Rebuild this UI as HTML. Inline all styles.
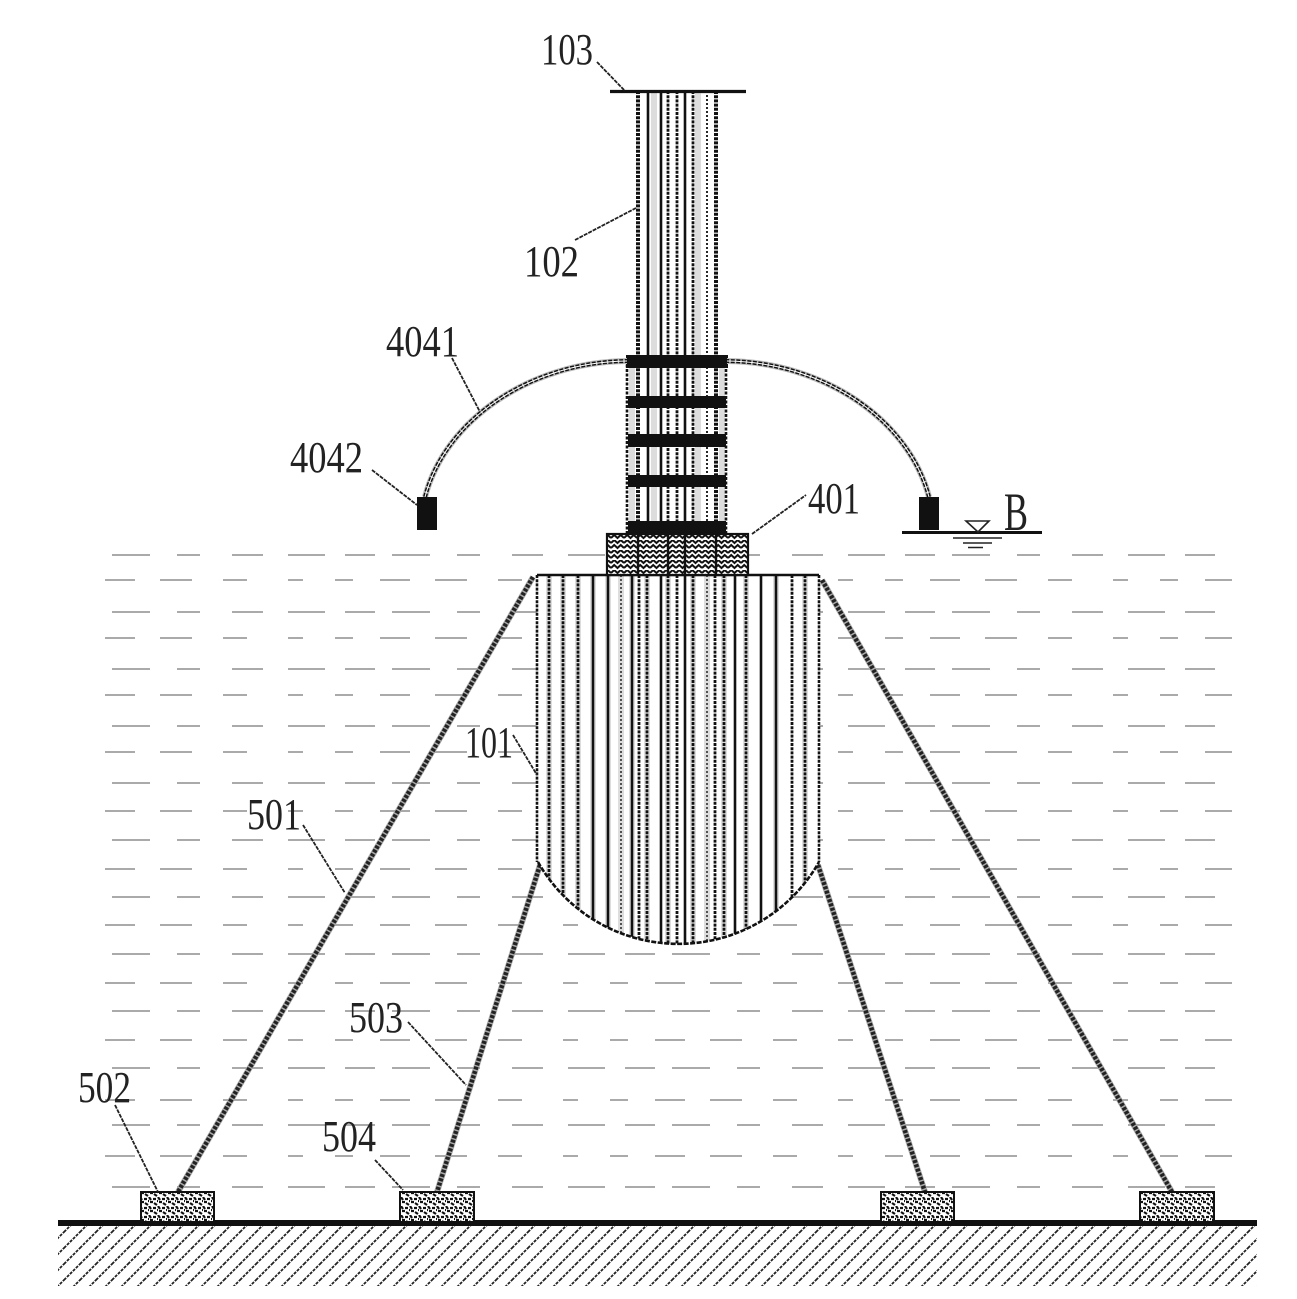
<!DOCTYPE html>
<html><head><meta charset="utf-8"><style>
html,body{margin:0;padding:0;background:#fff}
svg{display:block}
text{font-family:"Liberation Serif",serif;font-size:44px;fill:#222}
</style></head><body>
<svg xmlns="http://www.w3.org/2000/svg" width="1297" height="1299" viewBox="0 0 1297 1299">
<defs>
<pattern id="h" width="16" height="16" patternUnits="userSpaceOnUse"><path d="M-4 4L4 -4M0 16L16 0M12 20L20 12" stroke="#222" stroke-width="1.8" stroke-dasharray="3 1.2"/></pattern>
<pattern id="x" width="13" height="10" patternUnits="userSpaceOnUse"><path d="M0 3L3.2 0L6.5 3L9.7 0L13 3M0 8L3.2 5L6.5 8L9.7 5L13 8" fill="none" stroke="#111" stroke-width="2"/></pattern>
<pattern id="n" width="9" height="9" patternUnits="userSpaceOnUse"><path d="M0 2h3M5 0l2 3M1 6l3 2M6 5h3M4 4h1" stroke="#111" stroke-width="2.2"/></pattern>
<clipPath id="bc"><path d="M537 575H819V862A161.5 161.5 0 0 1 538 862Z"/></clipPath>
</defs>
<rect width="1297" height="1299" fill="#fff"/>

<!-- water -->
<g fill="none" stroke="#aaa" stroke-width="2">
<g stroke-dasharray="30 17 38 27 23 32 31 25 37 20" stroke-dashoffset="35">
<path d="M100 555H1232M100 612H1232M100 669H1232M100 726H1232M100 783H1232M100 840H1232M100 897H1232M100 954H1232M100 1011H1232M100 1068H1232M100 1125H1232M100 1187H1232"/>
</g>
<g stroke-dasharray="18 27 30 25 32 31 24 41 15 32" stroke-dashoffset="40">
<path d="M100 580H1232M100 638H1232M100 695H1232M100 752H1232M100 811H1232M100 869H1232M100 925H1232M100 983H1232M100 1040H1232M100 1100H1232M100 1156H1232"/>
</g>
</g>

<!-- ground -->
<rect x="58" y="1226" width="1199" height="60" fill="url(#h)"/>
<rect x="58" y="1220" width="1199" height="6" fill="#111"/>

<!-- mooring lines -->
<g fill="none" stroke-linecap="butt">
<path d="M533 577L178 1192M822 580L1172 1192M540 865L437 1192M818 865L925 1192" stroke="#aaa" stroke-width="6"/>
<path d="M533 577L178 1192M822 580L1172 1192M540 865L437 1192M818 865L925 1192" stroke="#222" stroke-width="4.5" stroke-dasharray="3 1.5"/>
</g>

<!-- hull -->
<path d="M537 575H819V862A161.5 161.5 0 0 1 538 862Z" fill="#fff"/>
<g clip-path="url(#bc)">
<g fill="none" stroke="#ddd" stroke-width="6">
<path d="M549 575V950M563 575V950M578 575V950M593 575V950M608 575V950M621 575V950M632 575V950M647 575V950M668 575V950M693 575V950M707 575V950M724 575V950M746 575V950M776 575V950M805 575V950"/>
</g>
<g fill="none" stroke="#111" stroke-width="2.6">
<path d="M608 575V950M632 575V950M661 575V950M685 575V950M735 575V950M761 575V950M776 575V950M593 575V950"/>
</g>
<g fill="none" stroke="#111" stroke-width="2.8" stroke-dasharray="3 1.2">
<path d="M549 575V950M563 575V950M578 575V950M639 575V950M647 575V950M668 575V950M677 575V950M693 575V950M715 575V950M724 575V950M746 575V950M792 575V950M805 575V950"/>
</g>
<g fill="none" stroke="#444" stroke-width="1.8" stroke-dasharray="2 2">
<path d="M621 575V950M707 575V950"/>
</g>
</g>
<path d="M537 575V862M819 575V862" fill="none" stroke="#111" stroke-width="2.6" stroke-dasharray="3 1.2"/>
<path d="M537 575H819" fill="none" stroke="#111" stroke-width="2.4"/>
<path d="M538 862A161.5 161.5 0 0 0 819 862" fill="none" stroke="#111" stroke-width="2.6" stroke-dasharray="5 1.5"/>

<!-- shaft -->
<rect x="627" y="352" width="100" height="182" fill="#fff"/>
<g fill="none" stroke="#ddd" stroke-width="6">
<path d="M654 92V534M698 92V534M632 360V534M722 360V534"/>
</g>
<g fill="none" stroke="#111" stroke-width="2.6">
<path d="M648 91V534M661 91V534M685 91V534"/>
<path d="M638 91V534M716 91V534" stroke-width="4" stroke-dasharray="3 1.2"/>
<path d="M668 91V534M677 91V534M693 91V534" stroke-width="2.8" stroke-dasharray="3 1.2"/>
<path d="M707 91V534" stroke-width="1.8" stroke-dasharray="2 2"/>
<path d="M627 360V534M726 360V534" stroke-dasharray="3 1.5"/>
</g>
<path d="M610 91.500H746" stroke="#111" stroke-width="3.2"/>
<g fill="#111">
<rect x="626" y="355" width="102" height="13"/>
<rect x="628" y="396" width="98" height="12"/>
<rect x="628" y="434" width="98" height="13"/>
<rect x="628" y="475" width="98" height="12"/>
<rect x="628" y="521" width="98" height="14"/>
</g>

<!-- collar 401 -->
<rect x="607" y="534" width="141" height="41" fill="#fff"/>
<rect x="607" y="534" width="141" height="41" fill="url(#x)" stroke="#111" stroke-width="2.2"/>
<path d="M638 534V575M668 534V575M685 534V575M716 534V575" stroke="#111" stroke-width="2.4"/>

<!-- float arc -->
<g fill="none">
<path d="M425 497C445 420 530 362 627 361M929 497C909 420 824 362 727 361" stroke="#bbb" stroke-width="6"/>
<path d="M425 497C445 420 530 362 627 361M929 497C909 420 824 362 727 361" stroke="#111" stroke-width="4" stroke-dasharray="4 1.5"/>
<path d="M425 497C445 420 530 362 627 361M929 497C909 420 824 362 727 361" stroke="#fff" stroke-width="1"/>
</g>
<rect x="417" y="497" width="20" height="33" fill="#111"/>
<rect x="919" y="497" width="20" height="33" fill="#111"/>

<!-- water level -->
<path d="M902 532.5H1042" stroke="#111" stroke-width="3"/>
<path d="M966 521H989L978 532Z" fill="none" stroke="#222" stroke-width="1.6"/>
<path d="M953 538H1002M963 543H992M968 547.500H983" stroke="#222" stroke-width="1.6"/>
<text x="1004" y="530" textLength="24" lengthAdjust="spacingAndGlyphs" style="font-size:54px">B</text>

<!-- anchors -->
<g fill="#fff" stroke="#111" stroke-width="2">
<rect x="141" y="1192" width="73" height="30"/>
<rect x="400" y="1192" width="74" height="30"/>
<rect x="881" y="1192" width="73" height="30"/>
<rect x="1140" y="1192" width="74" height="30"/>
</g>
<g fill="url(#n)">
<rect x="141" y="1192" width="73" height="30"/>
<rect x="400" y="1192" width="74" height="30"/>
<rect x="881" y="1192" width="73" height="30"/>
<rect x="1140" y="1192" width="74" height="30"/>
</g>

<!-- leaders -->
<g fill="none" stroke="#222" stroke-width="1.8" stroke-dasharray="4 1">
<path d="M597 62L625 91"/>
<path d="M575 240L636 208"/>
<path d="M452 358L480 412"/>
<path d="M372 470L417 505"/>
<path d="M752 534L806 495"/>
<path d="M513 735L537 775"/>
<path d="M303 825L345 893"/>
<path d="M408 1022L466 1085"/>
<path d="M115 1105L158 1192"/>
<path d="M375 1160L403 1190"/>
</g>

<!-- labels -->
<text x="541" y="64" textLength="52" lengthAdjust="spacingAndGlyphs">103</text>
<text x="524" y="276" textLength="55" lengthAdjust="spacingAndGlyphs">102</text>
<text x="386" y="356" textLength="73" lengthAdjust="spacingAndGlyphs">4041</text>
<text x="290" y="472" textLength="73" lengthAdjust="spacingAndGlyphs">4042</text>
<text x="808" y="513" textLength="52" lengthAdjust="spacingAndGlyphs">401</text>
<text x="465" y="757" textLength="48" lengthAdjust="spacingAndGlyphs">101</text>
<text x="247" y="829" textLength="54" lengthAdjust="spacingAndGlyphs">501</text>
<text x="349" y="1032" textLength="54" lengthAdjust="spacingAndGlyphs">503</text>
<text x="78" y="1102" textLength="53" lengthAdjust="spacingAndGlyphs">502</text>
<text x="322" y="1151" textLength="54" lengthAdjust="spacingAndGlyphs">504</text>
</svg>
</body></html>
